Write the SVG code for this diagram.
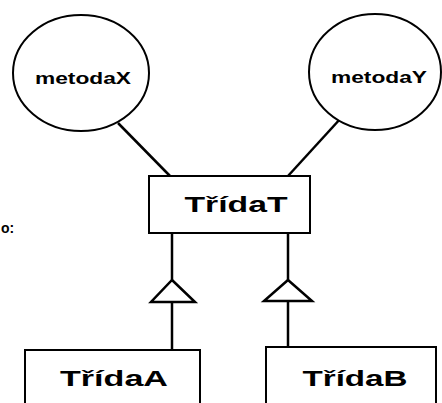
<svg xmlns="http://www.w3.org/2000/svg" width="442" height="403" viewBox="0 0 442 403">
<style>
.shape{fill:#fff;stroke:#000;stroke-width:2}
.edge{fill:none;stroke:#000;stroke-width:2.5}
.tri{fill:#fff;stroke:#000;stroke-width:2.5;stroke-linejoin:miter}
.lbl{font-family:"Liberation Sans",Arial,sans-serif;font-weight:bold;fill:#000;text-anchor:middle}
.m{font-size:16px}
.c{font-size:22px}
</style>
<rect width="442" height="403" fill="#fff"/>
<g id="connectors">
<line class="edge" x1="118" y1="123" x2="170" y2="176"/>
<line class="edge" x1="341" y1="118" x2="288" y2="176"/>
<line class="edge" x1="172" y1="233" x2="172" y2="280"/>
<line class="edge" x1="172" y1="302" x2="172" y2="350"/>
<polygon class="tri" points="172,280 195,302 151,302"/>
<line class="edge" x1="288" y1="233" x2="288" y2="280"/>
<line class="edge" x1="288" y1="301" x2="288" y2="347"/>
<polygon class="tri" points="288,280 312,301 264,301"/>
</g>
<g id="metodaX">
<ellipse class="shape" cx="81" cy="73" rx="68" ry="58"/>
<text class="lbl m" x="83" y="84" textLength="96" lengthAdjust="spacingAndGlyphs">metodaX</text>
</g>
<g id="metodaY">
<ellipse class="shape" cx="375" cy="72" rx="66" ry="58"/>
<text class="lbl m" x="379" y="83" textLength="96" lengthAdjust="spacingAndGlyphs">metodaY</text>
</g>
<g id="TridaT">
<rect class="shape" x="149" y="176" width="161" height="57"/>
<text class="lbl c" x="236" y="212" textLength="103" lengthAdjust="spacingAndGlyphs">TřídaT</text>
</g>
<g id="TridaA">
<rect class="shape" x="25" y="350" width="175" height="70"/>
<text class="lbl c" x="114" y="386" textLength="108" lengthAdjust="spacingAndGlyphs">TřídaA</text>
</g>
<g id="TridaB">
<rect class="shape" x="266" y="347" width="170" height="70"/>
<text class="lbl c" x="355" y="386" textLength="105" lengthAdjust="spacingAndGlyphs">TřídaB</text>
</g>
<text x="1" y="233" style="font-family:'Liberation Sans',Arial,sans-serif;font-size:14px;font-weight:bold">o:</text>
</svg>
